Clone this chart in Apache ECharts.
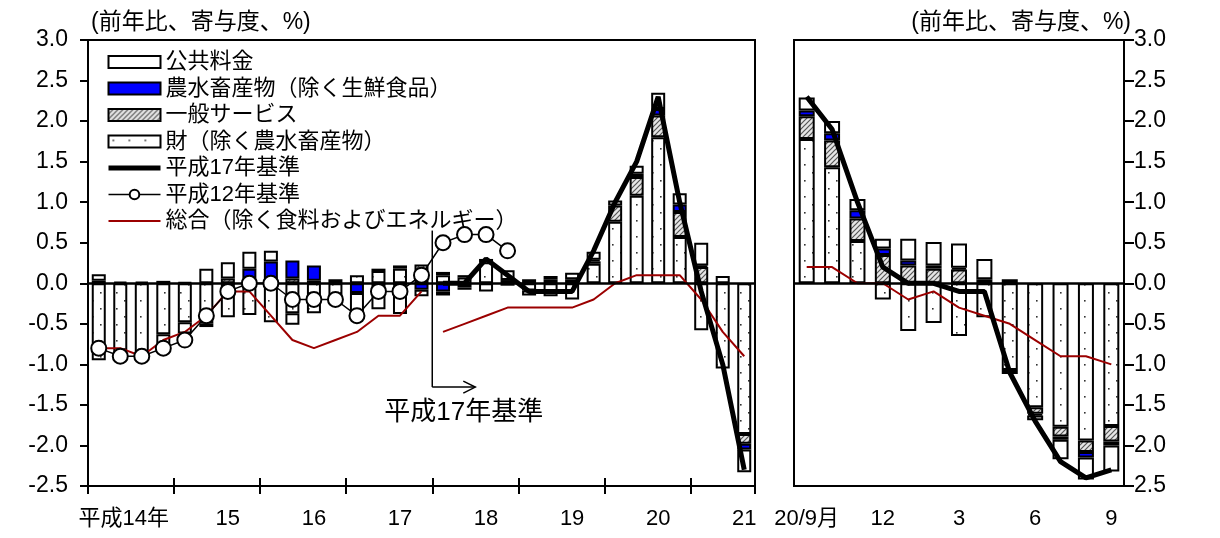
<!DOCTYPE html>
<html>
<head>
<meta charset="utf-8">
<script src="https://cdn.jsdelivr.net/npm/echarts@6/dist/echarts.min.js"></script>
<style>
  html, body { margin: 0; padding: 0; background: #fff; }
  #chart { width: 1220px; height: 538px; }
</style>
</head>
<body>
<div id="chart"></div>
<script>
// ---- Quarterly panel (平成14年1Q – 平成21年3Q) ----
const quarterCats = [
  '14/1Q','14/2Q','14/3Q','14/4Q','15/1Q','15/2Q','15/3Q','15/4Q',
  '16/1Q','16/2Q','16/3Q','16/4Q','17/1Q','17/2Q','17/3Q','17/4Q',
  '18/1Q','18/2Q','18/3Q','18/4Q','19/1Q','19/2Q','19/3Q','19/4Q',
  '20/1Q','20/2Q','20/3Q','20/4Q','21/1Q','21/2Q','21/3Q'
];
const yearTickLabels = ['平成14年', '15', '16', '17', '18', '19', '20', '21'];

// contributions (percentage points)
const qGoods    = [-0.95,-0.88,-0.90,-0.63,-0.48,-0.50,-0.42,-0.39,-0.48,-0.37,-0.37,-0.26, 0.10, 0.15, 0.18, 0.15,
                    0.10, 0.07, 0.26,-0.03,-0.09,-0.16,-0.20, 0.24, 0.76, 1.08, 1.80, 0.57,-0.58,-1.05,-1.86];
const qServices = [ 0.03, 0.02, 0.02, 0.03, 0.01,-0.04, 0.06, 0.06, 0.03, 0.06, 0.03, 0.05, 0,    0.03, 0.04, 0.08,
                    0.04, 0.03, 0.04, 0.04, 0.05, 0.05, 0.05, 0.03, 0.20, 0.23, 0.27, 0.31, 0.20, 0,   -0.12];
const qFarm     = [ 0,    0,    0,    0,    0,    0,    0,    0.12, 0.24, 0.22, 0.19, 0,   -0.12,-0.04,-0.03,-0.08,
                   -0.10,-0.05, 0,    0,    0,    0,    0,    0.02, 0,    0.04, 0.08, 0.09, 0.02, 0,   -0.07];
const qPublic   = [ 0.08, 0,    0,   -0.14,-0.14, 0.18, 0.20, 0.21, 0.13,-0.14, 0,    0,   -0.30,-0.28,-0.35,-0.08,
                   -0.05,-0.03,-0.10, 0.12,-0.06, 0.04, 0.08, 0.10, 0.06, 0.10, 0.20, 0.14, 0.28, 0.09,-0.28];

// year-on-year rates (%)
const qCore2005 = [null,null,null,null,null,null,null,null,null,null,null,null,null,null,null,null,
                   0.0, 0.0, 0.3, 0.1,-0.1,-0.1,-0.1, 0.4, 1.0, 1.5, 2.3, 1.0,-0.1,-1.0,-2.3];
const qCore2000 = [-0.8,-0.9,-0.9,-0.8,-0.7,-0.4,-0.1, 0.0, 0.0,-0.2,-0.2,-0.2,-0.4,-0.1,-0.1, 0.1,
                    0.5, 0.6, 0.6, 0.4,null,null,null,null,null,null,null,null,null,null,null];
const qCoreCoreA = [-0.8,-0.8,-0.9,-0.7,-0.6,-0.4,-0.1,-0.1,-0.4,-0.7,-0.8,-0.7,-0.6,-0.4,-0.4,-0.1,
                    null,null,null,null,null,null,null,null,null,null,null,null,null,null,null];
const qCoreCoreB = [null,null,null,null,null,null,null,null,null,null,null,null,null,null,null,null,
                   -0.6,-0.5,-0.4,-0.3,-0.3,-0.3,-0.3,-0.2, 0.0, 0.1, 0.1, 0.1,-0.2,-0.6,-0.9];

// ---- Monthly panel (20/9 – 21/9) ----
const monthCats = ['20/9','20/10','20/11','20/12','21/1','21/2','21/3','21/4','21/5','21/6','21/7','21/8','21/9'];
const monthTickLabels = ['20/9月', '12', '3', '6', '9'];

const mGoods    = [1.78, 1.43, 0.52,-0.20,-0.59,-0.49,-0.65,-0.42,-1.07,-1.53,-1.77,-1.94,-1.76];
const mServices = [0.28, 0.33, 0.28, 0.35, 0.22, 0.18, 0.17, 0.05,-0.05,-0.08,-0.12,-0.14,-0.19];
const mFarm     = [0.07, 0.09, 0.10, 0.08, 0.06, 0.04, 0.02, 0,    0,   -0.02,-0.04,-0.07,-0.05];
const mPublic   = [0.16, 0.15, 0.14, 0.12, 0.27, 0.29, 0.30, 0.25, 0.05,-0.06,-0.24,-0.27,-0.32];
const mCore     = [2.3, 1.9, 1.0, 0.2, 0.0, 0.0,-0.1,-0.1,-1.1,-1.7,-2.2,-2.4,-2.3];
const mCoreCore = [0.2, 0.2, 0.0, 0.0,-0.2,-0.1,-0.3,-0.4,-0.5,-0.7,-0.9,-0.9,-1.0];

// ---- names ----
const N_PUBLIC = '公共料金';
const N_FARM   = '農水畜産物（除く生鮮食品）';
const N_SERV   = '一般サービス';
const N_GOODS  = '財（除く農水畜産物）';
const N_H17    = '平成17年基準';
const N_H12    = '平成12年基準';
const N_CC     = '総合（除く食料およびエネルギー）';
const UNIT     = '(前年比、寄与度、%)';

const FONT = '"Liberation Sans", "Noto Sans CJK JP", sans-serif';
const RED = '#9b0000';

// fill patterns
function dotPattern() {
  const c = document.createElement('canvas');
  c.width = 16; c.height = 16;
  const g = c.getContext('2d');
  g.fillStyle = '#fff'; g.fillRect(0, 0, 16, 16);
  g.fillStyle = '#333';
  g.fillRect(4, 4, 1.6, 1.6);
  g.fillRect(12, 12, 1.6, 1.6);
  return c;
}
function hatchPattern() {
  const s = 5;
  const c = document.createElement('canvas');
  c.width = s; c.height = s;
  const g = c.getContext('2d');
  g.fillStyle = '#e6e6e6'; g.fillRect(0, 0, s, s);
  g.strokeStyle = '#555'; g.lineWidth = 1.2;
  g.beginPath();
  g.moveTo(-1, s + 1); g.lineTo(s + 1, -1);
  g.moveTo(-1, 1); g.lineTo(1, -1);
  g.moveTo(s - 1, s + 1); g.lineTo(s + 1, s - 1);
  g.stroke();
  return c;
}
const DOTS = { image: dotPattern(), repeat: 'repeat' };
const HATCH = { image: hatchPattern(), repeat: 'repeat' };

const clean = arr => arr.map(v => (v === 0 ? null : v));

function bar(name, data, fill, xi, yi, stack, width, extra) {
  return Object.assign({
    name, type: 'bar', stack, xAxisIndex: xi, yAxisIndex: yi,
    data: clean(data), barWidth: width,
    itemStyle: { color: fill, borderColor: '#000', borderWidth: 2 },
    emphasis: { disabled: true }, z: 2
  }, extra || {});
}
const zeroLine = {
  silent: true, symbol: ['none', 'none'], label: { show: false },
  lineStyle: { color: '#000', width: 2.5, type: 'solid' },
  data: [{ yAxis: 0 }]
};
function thickLine(data, xi, yi) {
  return { name: N_H17, type: 'line', xAxisIndex: xi, yAxisIndex: yi, data,
    symbol: 'none', lineStyle: { color: '#000', width: 5 }, itemStyle: { color: '#000' },
    emphasis: { disabled: true }, z: 6 };
}
function redLine(data, xi, yi) {
  return { name: N_CC, type: 'line', xAxisIndex: xi, yAxisIndex: yi, data,
    symbol: 'none', lineStyle: { color: RED, width: 2 }, itemStyle: { color: RED },
    emphasis: { disabled: true }, z: 4 };
}

const yAxisCommon = {
  type: 'value', min: -2.5, max: 3.0, interval: 0.5,
  splitLine: { show: false },
  axisLine: { show: true, lineStyle: { color: '#000', width: 2 } },
  axisTick: { show: true, inside: false, length: 8, lineStyle: { color: '#000', width: 2 } },
  axisLabel: { fontSize: 23, fontFamily: FONT, color: '#000', formatter: v => v.toFixed(1) }
};

// legend keys for plain lines: keep the line, hide the marker
const noMarker = { color: 'rgba(0,0,0,0)', borderColor: 'rgba(0,0,0,0)', borderWidth: 0 };

const chart = echarts.init(document.getElementById('chart'), null, { renderer: 'canvas' });

chart.setOption({
  animation: false,
  backgroundColor: '#fff',
  textStyle: { fontFamily: FONT, color: '#000' },
  title: [
    { text: UNIT, left: 86, top: 6, textStyle: { fontSize: 23, fontWeight: 'normal', fontFamily: FONT, color: '#000' } },
    { text: UNIT, right: 84, top: 6, textStyle: { fontSize: 23, fontWeight: 'normal', fontFamily: FONT, color: '#000' } }
  ],
  legend: {
    orient: 'vertical', left: 101, top: 46,
    itemWidth: 52, itemHeight: 12, itemGap: 4.5,
    selectedMode: false,
    textStyle: { fontSize: 22, lineHeight: 22, fontFamily: FONT, color: '#000' },
    data: [
      { name: N_PUBLIC, icon: 'rect' },
      { name: N_FARM, icon: 'rect' },
      { name: N_SERV, icon: 'rect' },
      { name: N_GOODS, icon: 'rect' },
      { name: N_H17, itemStyle: noMarker, lineStyle: { width: 5, color: '#000' } },
      { name: N_H12, lineStyle: { width: 1.5, color: '#000' } },
      { name: N_CC, itemStyle: noMarker, lineStyle: { width: 2, color: RED } }
    ]
  },
  grid: [
    { left: 88, top: 40, width: 667, height: 446, show: true, borderColor: '#000', borderWidth: 2 },
    { left: 794, top: 40, width: 330, height: 446, show: true, borderColor: '#000', borderWidth: 2 }
  ],
  xAxis: [
    {
      type: 'category', gridIndex: 0, data: quarterCats, position: 'bottom',
      axisLine: { show: true, onZero: false, lineStyle: { color: '#000', width: 2 } },
      axisTick: { show: true, inside: false, length: 8, interval: i => i % 4 === 0, lineStyle: { color: '#000', width: 2 } },
      axisLabel: {
        interval: i => i % 4 === 2, margin: 22, fontSize: 22, fontFamily: FONT, color: '#000',
        formatter: (v, i) => (i === 2 ? '{first|' + yearTickLabels[0] + '}' : yearTickLabels[Math.floor(i / 4)]),
        rich: { first: { fontSize: 22, fontFamily: FONT, color: '#000', padding: [0, 36, 0, 0] } }
      }
    },
    {
      type: 'category', gridIndex: 0, data: quarterCats, position: 'bottom',
      axisLine: { show: false, onZero: false },
      axisTick: { show: true, inside: true, length: 8, interval: i => i % 4 === 0, lineStyle: { color: '#000', width: 2 } },
      axisLabel: { show: false }
    },
    {
      type: 'category', gridIndex: 1, data: monthCats, position: 'bottom',
      axisLine: { show: true, onZero: false, lineStyle: { color: '#000', width: 2 } },
      axisTick: { show: false },
      axisLabel: {
        interval: i => i % 3 === 0, margin: 22, fontSize: 22, fontFamily: FONT, color: '#000',
        formatter: (v, i) => monthTickLabels[Math.floor(i / 3)]
      }
    }
  ],
  yAxis: [
    Object.assign({}, yAxisCommon, { gridIndex: 0, position: 'left',
      axisLabel: Object.assign({}, yAxisCommon.axisLabel, { margin: 20 }) }),
    Object.assign({}, yAxisCommon, { gridIndex: 1, position: 'right',
      axisTick: Object.assign({}, yAxisCommon.axisTick, { length: 10 }),
      axisLabel: Object.assign({}, yAxisCommon.axisLabel, { margin: 42, align: 'right' }) })
  ],
  series: [
    // quarterly contributions, stacked outward from zero
    bar(N_GOODS, qGoods, DOTS, 0, 0, 'q', 14, { markLine: zeroLine }),
    bar(N_SERV, qServices, HATCH, 0, 0, 'q', 14),
    bar(N_FARM, qFarm, '#0000ff', 0, 0, 'q', 14),
    bar(N_PUBLIC, qPublic, '#ffffff', 0, 0, 'q', 14),
    redLine(qCoreCoreA, 0, 0),
    redLine(qCoreCoreB, 0, 0),
    thickLine(qCore2005, 0, 0),
    {
      name: N_H12, type: 'line', xAxisIndex: 0, yAxisIndex: 0, data: qCore2000,
      symbol: 'circle', symbolSize: 15, showAllSymbol: true,
      lineStyle: { color: '#000', width: 1.5 },
      itemStyle: { color: '#fff', borderColor: '#000', borderWidth: 2 },
      emphasis: { disabled: true }, z: 7
    },
    // monthly contributions
    bar(N_GOODS, mGoods, DOTS, 2, 1, 'm', 16, { markLine: zeroLine }),
    bar(N_SERV, mServices, HATCH, 2, 1, 'm', 16),
    bar(N_FARM, mFarm, '#0000ff', 2, 1, 'm', 16),
    bar(N_PUBLIC, mPublic, '#ffffff', 2, 1, 'm', 16),
    redLine(mCoreCore, 2, 1),
    thickLine(mCore, 2, 1)
  ]
});

// base-year switch marker: vertical rule between 平成17年4Q and 平成18年1Q with an arrow
const px = (cat) => chart.convertToPixel({ xAxisIndex: 0 }, cat);
const py = (v) => chart.convertToPixel({ yAxisIndex: 0 }, v);
const xSwitch = (px(quarterCats[15]) + px(quarterCats[16])) / 2;
const xArrow = (px(quarterCats[17]) + px(quarterCats[18])) / 2;
const yTop = py(0.65);
const yBot = py(-1.28);
const yText = py(-1.6);
chart.setOption({
  graphic: [
    { type: 'line', z: 10, shape: { x1: xSwitch, y1: yTop, x2: xSwitch, y2: yBot }, style: { stroke: '#000', lineWidth: 1.5 } },
    { type: 'line', z: 10, shape: { x1: xSwitch, y1: yBot, x2: xArrow, y2: yBot }, style: { stroke: '#000', lineWidth: 1.5 } },
    { type: 'polyline', z: 10, shape: { points: [[xArrow - 12, yBot - 6], [xArrow, yBot], [xArrow - 12, yBot + 6]] },
      style: { stroke: '#000', lineWidth: 1.5, fill: null } },
    { type: 'text', z: 10, x: xSwitch - 48, y: yText,
      style: { text: N_H17, fontSize: 26, fontFamily: FONT, fill: '#000', verticalAlign: 'middle' } }
  ]
});
</script>
</body>
</html>
